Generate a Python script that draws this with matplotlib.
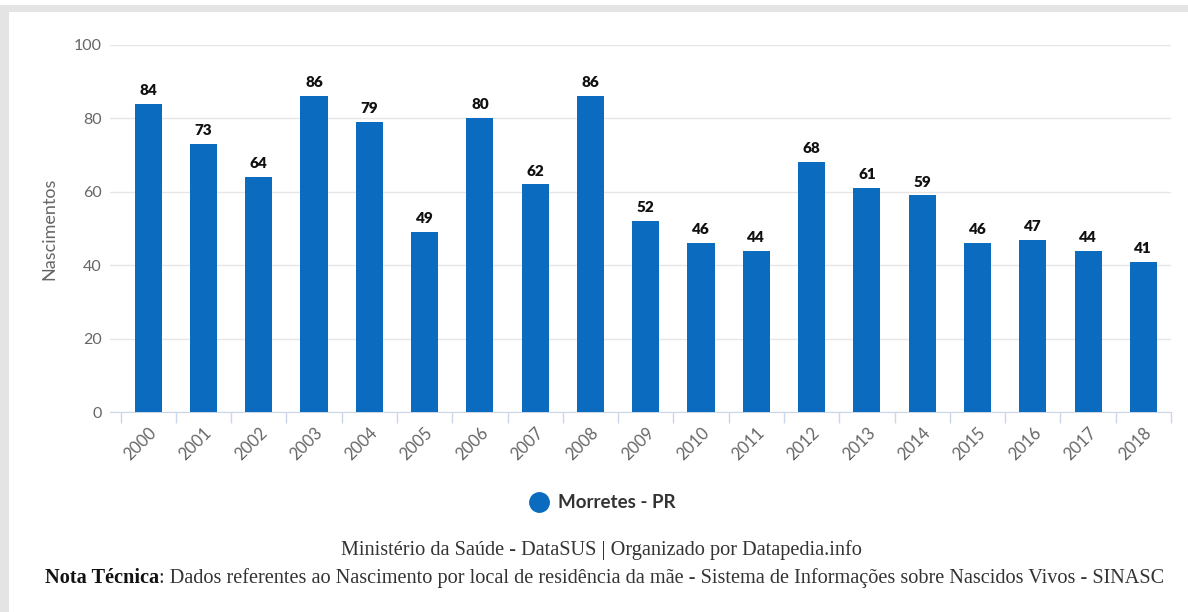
import matplotlib
matplotlib.use("Agg")
import matplotlib.pyplot as plt
import numpy as np
from matplotlib.lines import Line2D
from matplotlib.patches import Rectangle

years = [str(y) for y in range(2000, 2019)]
births = [84, 73, 64, 86, 79, 49, 80, 62, 86, 52, 46, 44, 68, 61, 59, 46, 47, 44, 41]
y_ticks = [0, 20, 40, 60, 80, 100]
series_name = "Morretes - PR"
source_text = "Ministério da Saúde - DataSUS | Organizado por Datapedia.info"
note_title = "Nota Técnica"
note_text = ": Dados referentes ao Nascimento por local de residência da mãe - Sistema de Informações sobre Nascidos Vivos - SINASC"

BAR = "#0b6cbf"
W, H = 1188, 612

fig = plt.figure(figsize=(W / 100, H / 100), dpi=100)
fig.patch.set_facecolor("white")

# screenshot frame
fig.patches.append(Rectangle((0, 1 - 12 / H), 1, 7 / H, transform=fig.transFigure,
                             facecolor="#e4e4e4", edgecolor="none", zorder=0))
fig.patches.append(Rectangle((0, 0), 9 / W, 1 - 5 / H, transform=fig.transFigure,
                             facecolor="#e4e4e4", edgecolor="none", zorder=0))

ax = fig.add_axes([110 / W, 1 - 412 / H, (1171 - 110) / W, (412 - 45) / H])
x = np.arange(len(years))
ax.bar(x, births, width=0.49, color=BAR, zorder=3)

for xi, v in zip(x, births):
    ax.annotate(str(v), (xi, v), xytext=(0, 5), textcoords="offset points",
                ha="center", va="bottom", fontsize=11, fontweight="heavy",
                color="#111111", family="Lato")

ax.set_xlim(-0.69, len(years) - 0.5)
ax.set_ylim(0, 100)
ax.set_yticks(y_ticks)
ax.set_yticklabels([str(t) for t in y_ticks], fontsize=11.5, color="#666666", family="Lato")
ax.tick_params(axis="y", length=0, pad=6)
ax.grid(axis="y", color="#e6e6e6", lw=1, zorder=0)

ax.set_xticks(x)
ax.set_xticklabels(years, rotation=45, ha="right", rotation_mode="anchor",
                   fontsize=12, color="#666666", family="Lato")
ax.tick_params(axis="x", length=0, pad=9)
ax.set_xticks(np.arange(-0.5, len(years)), minor=True)
ax.tick_params(axis="x", which="minor", length=8, color="#ccd6eb", width=1)

for s in ["top", "right", "left"]:
    ax.spines[s].set_visible(False)
ax.spines["bottom"].set_color("#ccd6eb")

ax.set_ylabel("Nascimentos", fontsize=13, color="#666666", family="Lato", labelpad=12)

handle = Line2D([], [], marker="o", linestyle="none", markersize=14,
                markerfacecolor=BAR, markeredgecolor=BAR)
leg = fig.legend([handle], [series_name], loc="center",
                 bbox_to_anchor=(598 / W, 1 - 503 / H), frameon=False,
                 handletextpad=0.05, prop={"family": "Lato", "weight": "bold", "size": 13.5})
for t in leg.get_texts():
    t.set_color("#333333")

fig.text(601 / W, 1 - 550 / H, source_text, ha="center", va="center",
         fontsize=14.6, family="Liberation Serif", color="#333333")

t1 = fig.text(45 / W, 1 - 578 / H, note_title, ha="left", va="center",
              fontsize=14.6, family="Liberation Serif", fontweight="bold", color="#111111")
fig.canvas.draw()
bb = t1.get_window_extent()
fig.text(bb.x1 / W, 1 - 578 / H, note_text, ha="left", va="center",
         fontsize=14.6, family="Liberation Serif", color="#333333")

fig.savefig("out.png", dpi=100)
